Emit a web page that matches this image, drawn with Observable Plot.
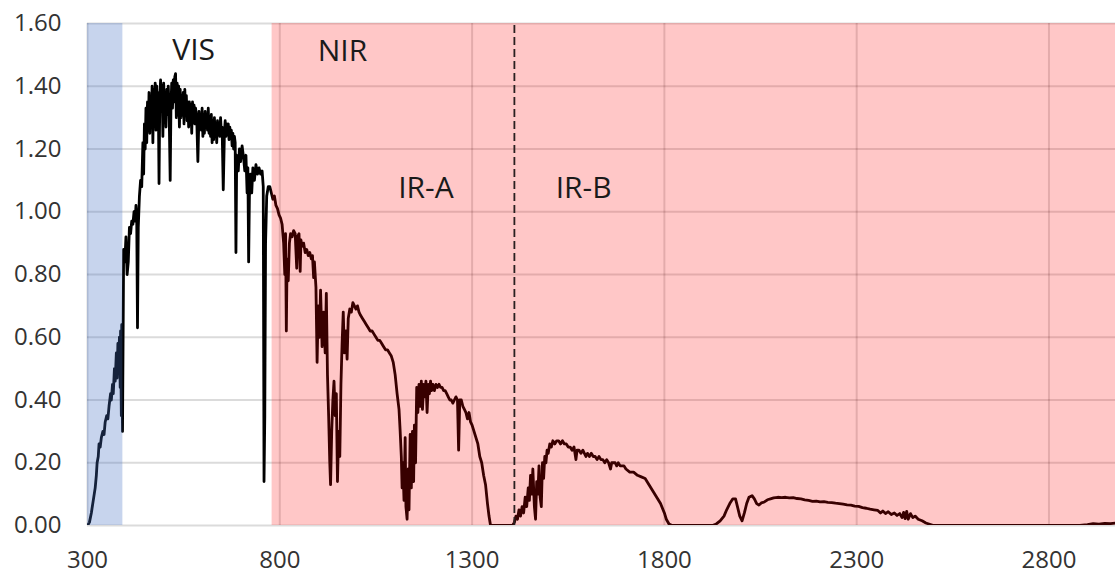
<!DOCTYPE html>
<html>
<head>
<meta charset="utf-8">
<script src="https://cdn.jsdelivr.net/npm/d3@7"></script>
<script src="https://cdn.jsdelivr.net/npm/@observablehq/plot@0.6"></script>
<style>
  html, body { margin: 0; padding: 0; background: #fff; }
  #chart { width: 1115px; height: 574px; overflow: hidden; }
</style>
</head>
<body>
<div id="chart"></div>
<script>
// Solar spectral irradiance (W/m²/nm) against wavelength (nm), ten readings per row
const wavelength = [
  300,305,310,315,320,323,325,328,330,333,
  336,340,343,346,350,353,356,360,362,365,
  367,370,372,375,377,379,381,383,385,386,
  388,389,391,394,397,400,403,406,409,412,
  415,418,421,424,426,428,430,432,435,438,
  441,444,446,448,450,452,454,456,458,460,
  462,464,466,468,470,472,474,476,478,480,
  482,484,486,488,490,492,494,496,498,500,
  502,504,506,508,510,512,515,517,519,521,
  523,525,527,529,531,533,535,537,539,541,
  543,545,547,549,551,553,555,557,559,561,
  563,565,567,569,571,573,575,577,579,581,
  584,587,590,592,594,596,598,600,602,604,
  606,608,610,612,614,616,618,620,622,624,
  626,628,630,632,634,636,638,640,642,644,
  646,648,650,653,656,658,660,662,664,666,
  668,670,672,674,676,678,680,682,684,686,
  688,692,695,698,702,706,709,712,715,717,
  719,721,724,727,730,734,738,742,746,750,
  754,757,759,761,763,766,770,774,778,782,
  786,790,794,798,802,806,810,813,815,817,
  819,822,825,828,832,836,840,844,846,850,
  853,855,858,862,866,870,874,878,882,885,
  888,890,894,897,900,903,906,910,914,918,
  921,924,927,930,932,935,938,941,944,947,
  950,953,956,959,962,965,968,972,975,978,
  982,986,990,994,998,1002,1006,1010,1015,1020,
  1025,1030,1035,1040,1045,1050,1055,1060,1065,1070,
  1075,1080,1085,1090,1095,1100,1105,1110,1113,1116,
  1118,1120,1123,1126,1128,1131,1134,1136,1139,1142,
  1145,1148,1150,1153,1156,1159,1162,1165,1168,1171,
  1174,1177,1180,1183,1186,1189,1192,1195,1198,1202,
  1206,1210,1214,1218,1222,1226,1230,1234,1238,1242,
  1246,1250,1254,1258,1262,1265,1268,1272,1276,1280,
  1284,1288,1292,1296,1300,1305,1310,1315,1320,1325,
  1330,1335,1340,1344,1348,1405,1410,1414,1418,1422,
  1426,1430,1434,1438,1442,1446,1449,1452,1455,1458,
  1462,1465,1468,1471,1474,1477,1480,1483,1486,1489,
  1492,1495,1498,1502,1506,1510,1515,1520,1525,1530,
  1535,1540,1545,1550,1555,1560,1565,1570,1573,1578,
  1583,1588,1592,1596,1600,1605,1610,1615,1620,1625,
  1630,1635,1640,1645,1650,1655,1660,1663,1668,1672,
  1676,1680,1685,1690,1695,1700,1710,1720,1730,1740,
  1750,1760,1770,1780,1790,1800,1805,1812,1820,1925,
  1935,1945,1955,1962,1970,1978,1985,1990,1996,2002,
  2008,2014,2020,2028,2034,2040,2046,2052,2060,2068,
  2076,2084,2095,2105,2115,2125,2135,2145,2155,2165,
  2175,2185,2195,2205,2215,2225,2235,2245,2255,2265,
  2275,2285,2295,2305,2315,2325,2335,2345,2355,2362,
  2368,2375,2382,2390,2398,2405,2412,2418,2422,2426,
  2430,2434,2440,2446,2452,2460,2470,2480,2490,2500,
  2880,2900,2915,2930,2945,2960,2973
];
const irradiance = [
  0,0.01,0.04,0.08,0.12,0.16,0.2,0.22,0.26,0.25,
  0.28,0.3,0.29,0.33,0.35,0.34,0.38,0.42,0.40,0.45,
  0.42,0.5,0.46,0.55,0.47,0.58,0.5,0.60,0.44,0.62,
  0.35,0.64,0.30,0.88,0.84,0.92,0.80,0.84,0.95,0.93,
  0.97,0.96,1.0,0.97,1.02,0.98,0.63,0.95,1.05,1.10,
  1.08,1.22,1.12,1.28,1.20,1.33,1.22,1.35,1.26,1.38,
  1.25,1.36,1.30,1.40,1.22,1.39,1.31,1.41,1.26,1.40,
  1.33,1.38,1.09,1.36,1.42,1.32,1.40,1.24,1.41,1.32,
  1.38,1.27,1.39,1.31,1.40,1.34,1.10,1.34,1.41,1.33,
  1.42,1.35,1.43,1.44,1.30,1.41,1.33,1.40,1.27,1.39,
  1.30,1.37,1.32,1.38,1.28,1.39,1.32,1.37,1.29,1.35,
  1.27,1.35,1.29,1.34,1.25,1.35,1.30,1.34,1.28,1.33,
  1.30,1.16,1.32,1.27,1.31,1.26,1.33,1.24,1.31,1.25,
  1.32,1.27,1.31,1.26,1.33,1.25,1.29,1.24,1.31,1.22,
  1.29,1.23,1.30,1.25,1.28,1.22,1.29,1.26,1.28,1.24,
  1.30,1.25,1.27,1.07,1.25,1.29,1.24,1.28,1.25,1.28,
  1.23,1.27,1.24,1.26,1.21,1.25,1.20,1.24,1.22,0.87,
  1.18,1.13,1.20,1.16,1.21,1.17,1.13,1.18,1.06,1.14,
  0.84,1.05,1.12,1.06,1.14,1.10,1.15,1.12,1.14,1.12,
  1.13,1.08,0.14,0.35,0.90,1.05,1.08,1.08,1.06,1.04,
  1.05,1.02,1.01,0.99,0.98,0.96,0.90,0.80,0.93,0.62,
  0.85,0.78,0.90,0.93,0.92,0.94,0.93,0.82,0.92,0.93,
  0.81,0.91,0.89,0.90,0.87,0.88,0.86,0.87,0.85,0.86,
  0.79,0.84,0.76,0.52,0.70,0.60,0.75,0.57,0.68,0.55,
  0.74,0.48,0.35,0.20,0.13,0.30,0.40,0.46,0.35,0.42,
  0.14,0.30,0.22,0.45,0.58,0.68,0.55,0.62,0.53,0.66,
  0.69,0.68,0.71,0.70,0.69,0.70,0.68,0.67,0.66,0.65,
  0.64,0.63,0.62,0.62,0.61,0.60,0.59,0.59,0.58,0.57,
  0.56,0.56,0.55,0.54,0.52,0.48,0.42,0.37,0.30,0.22,
  0.12,0.20,0.08,0.28,0.06,0.02,0.18,0.05,0.29,0.12,
  0.30,0.14,0.32,0.20,0.44,0.36,0.45,0.38,0.46,0.37,
  0.45,0.41,0.46,0.36,0.45,0.42,0.46,0.43,0.45,0.43,
  0.45,0.44,0.45,0.44,0.44,0.43,0.43,0.42,0.41,0.40,
  0.40,0.39,0.40,0.41,0.40,0.24,0.40,0.40,0.38,0.37,
  0.36,0.34,0.36,0.33,0.32,0.30,0.28,0.26,0.22,0.20,
  0.16,0.13,0.07,0.03,0,0,0.01,0.03,0.02,0.05,
  0.03,0.06,0.04,0.09,0.06,0.12,0.08,0.16,0.10,0.18,
  0.06,0.02,0.14,0.10,0.19,0.09,0.06,0.20,0.15,0.22,
  0.20,0.24,0.23,0.26,0.25,0.27,0.26,0.27,0.27,0.26,
  0.27,0.26,0.26,0.25,0.25,0.24,0.25,0.21,0.24,0.24,
  0.23,0.24,0.23,0.22,0.23,0.22,0.23,0.22,0.22,0.21,
  0.22,0.21,0.21,0.20,0.21,0.20,0.18,0.20,0.20,0.20,
  0.19,0.20,0.19,0.19,0.19,0.18,0.17,0.17,0.16,0.155,
  0.15,0.13,0.11,0.09,0.07,0.04,0.02,0.005,0,0,
  0.005,0.015,0.03,0.05,0.07,0.085,0.085,0.06,0.03,0.015,
  0.04,0.07,0.09,0.095,0.085,0.07,0.065,0.072,0.075,0.082,
  0.085,0.088,0.09,0.089,0.09,0.088,0.089,0.086,0.085,0.082,
  0.080,0.077,0.078,0.075,0.076,0.074,0.073,0.071,0.070,0.068,
  0.066,0.065,0.062,0.061,0.057,0.055,0.052,0.05,0.048,0.040,
  0.046,0.038,0.044,0.035,0.040,0.032,0.038,0.025,0.042,0.022,
  0.045,0.020,0.038,0.025,0.030,0.020,0.015,0.008,0.004,0,
  0,0.003,0.006,0.004,0.007,0.006,0.008
];

// Spectral bands shaded over the curve
const bandName  = ["UV", "NIR"];
const bandStart = [300, 780];
const bandEnd   = [392, 2973];

// Region labels
const labelText = ["VIS", "NIR", "IR-A", "IR-B"];
const labelX    = [576, 963, 1180, 1590];
const labelY    = [1.515, 1.51, 1.075, 1.075];

// Boundary between IR-A and IR-B
const boundary = [1410];

const xTicks = [300, 800, 1300, 1800, 2300, 2800];
const yTicks = [0, 0.2, 0.4, 0.6, 0.8, 1.0, 1.2, 1.4, 1.6];

const spectrum = wavelength.map((w, i) => ({w, v: irradiance[i]}));
const bands = bandName.map((name, i) => ({name, x1: bandStart[i], x2: bandEnd[i]}));
const labels = labelText.map((text, i) => ({text, x: labelX[i], y: labelY[i]}));

const chart = Plot.plot({
  width: 1115,
  height: 574,
  marginLeft: 87,
  marginRight: 0,
  marginTop: 23,
  marginBottom: 49,
  style: {fontFamily: "'Open Sans', sans-serif", fontSize: "24px", color: "#333", background: "#fff"},
  x: {domain: [300, 2973], label: null},
  y: {domain: [0, 1.6], label: null},
  marks: [
    Plot.gridY(yTicks, {stroke: "#000", strokeOpacity: 0.14, strokeWidth: 2}),
    Plot.gridX(xTicks, {stroke: "#000", strokeOpacity: 0.14, strokeWidth: 2}),
    Plot.line(spectrum, {x: "w", y: "v", stroke: "#000", strokeWidth: 2.8, strokeLinejoin: "round", clip: true}),
    // translucent overlays tint everything beneath them
    Plot.rect(bands, {x1: "x1", x2: "x2", y1: 0, y2: 1.6,
      fill: d => d.name === "UV" ? "rgb(68,114,196)" : "rgb(255,0,0)",
      fillOpacity: d => d.name === "UV" ? 0.3 : 0.22}),
    Plot.ruleX(boundary, {y1: 0, y2: 1.6, stroke: "#2a2020", strokeWidth: 1.8, strokeDasharray: "8,4"}),
    Plot.text(labels, {x: "x", y: "y", text: "text", fontSize: 30, fill: "#1a1a1a"}),
    Plot.axisX(xTicks, {tickSize: 0, tickPadding: 25, tickFormat: d => String(d), label: null}),
    Plot.axisY(yTicks, {tickSize: 0, tickPadding: 26, tickFormat: d3.format(".2f"), label: null})
  ]
});

document.getElementById("chart").appendChild(chart);
</script>
</body>
</html>
